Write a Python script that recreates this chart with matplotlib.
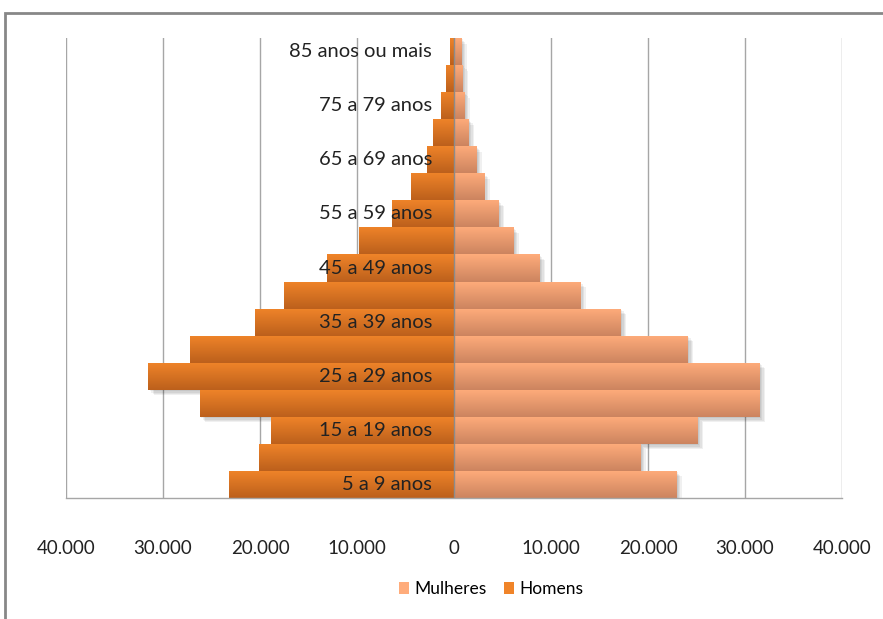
import numpy as np
import matplotlib
matplotlib.use("Agg")
import matplotlib.pyplot as plt
from matplotlib.patches import Rectangle, Patch
from matplotlib.colors import LinearSegmentedColormap
from matplotlib import patheffects as pe
from matplotlib.transforms import offset_copy

plt.rcParams['font.family'] = ['Lato', 'DejaVu Sans']

# Age groups, youngest at the bottom
grupos = ["5 a 9 anos", "10 a 14 anos", "15 a 19 anos", "20 a 24 anos",
          "25 a 29 anos", "30 a 34 anos", "35 a 39 anos", "40 a 44 anos",
          "45 a 49 anos", "50 a 54 anos", "55 a 59 anos", "60 a 64 anos",
          "65 a 69 anos", "70 a 74 anos", "75 a 79 anos", "80 a 84 anos",
          "85 anos ou mais"]
homens = [23200, 20100, 18900, 26200, 31500, 27200, 20500, 17500,
          13100, 9800, 6400, 4400, 2800, 2200, 1300, 800, 450]
mulheres = [22900, 19200, 25100, 31500, 31500, 24100, 17200, 13000,
            8800, 6100, 4600, 3100, 2300, 1500, 1050, 870, 740]
x_ticks = [-40000, -30000, -20000, -10000, 0, 10000, 20000, 30000, 40000]

cor_h_top, cor_h_bot = "#F08429", "#BC601C"
cor_m_top, cor_m_bot = "#FFAC7B", "#CC845F"

W, H = 883, 619
fig = plt.figure(figsize=(W / 100, H / 100), dpi=100)
ax = fig.add_axes([66 / W, 1 - 498 / H, (842 - 66) / W, (498 - 38) / H])

y = np.arange(len(grupos))
# soft drop shadow built from a few faint offset copies
shadow = [pe.SimplePatchShadow(offset=(d, -d), shadow_rgbFace="black", alpha=0.06)
          for d in (4, 3, 2, 1)] + [pe.Normal()]
bars_h = ax.barh(y, [-v for v in homens], height=1.0, color=cor_h_top,
                 zorder=2, path_effects=shadow)
bars_m = ax.barh(y, mulheres, height=1.0, color=cor_m_top,
                 zorder=2, path_effects=shadow)

# vertical gradient on each bar
grad = np.linspace(0, 1, 64).reshape(-1, 1)
for bars, c_top, c_bot in ((bars_h, cor_h_top, cor_h_bot),
                           (bars_m, cor_m_top, cor_m_bot)):
    cmap = LinearSegmentedColormap.from_list("g", [c_bot, c_top])
    for b in bars:
        x0, y0 = b.get_x(), b.get_y()
        x1, y1 = x0 + b.get_width(), y0 + b.get_height()
        im = ax.imshow(grad, cmap=cmap, aspect="auto", origin="lower",
                       extent=(min(x0, x1), max(x0, x1), y0, y1), zorder=2.5,
                       interpolation="bilinear")
        im.set_clip_path(b)

ax.set_xlim(-40000, 40000)
ax.set_ylim(-0.5, len(grupos) - 0.5)

ax.set_xticks(x_ticks)
ax.set_xticklabels([f"{abs(v):,}".replace(",", ".") for v in x_ticks])
ax.tick_params(axis="x", length=0, pad=30, labelsize=13.5, colors="#222222")
ax.set_yticks([])
ax.grid(axis="x", color="#A6A6A6", linewidth=1.0, zorder=0)
ax.set_axisbelow(True)
for s in ("top", "right", "left"):
    ax.spines[s].set_visible(False)
ax.spines["bottom"].set_color("#A6A6A6")
ax.spines["bottom"].set_linewidth(1.0)
ax.axvline(0, color="#8C8C8C", linewidth=1.0, zorder=4)

# category labels beside the central axis, every other group
lab_tr = offset_copy(ax.transData, fig=fig, x=-22, y=0, units="dots")
for i in range(0, len(grupos), 2):
    ax.text(0, i, grupos[i], transform=lab_tr, ha="right", va="center",
            fontsize=14.5, color="#222222", zorder=5)

handles = [Patch(facecolor=cor_m_top, edgecolor="none", label="Mulheres"),
           Patch(facecolor=cor_h_top, edgecolor="none", label="Homens")]
fig.legend(handles=handles, loc="center", bbox_to_anchor=(491 / W, 1 - 589 / H),
           ncol=2, frameon=False, fontsize=12.5, handlelength=0.6,
           handleheight=0.7, handletextpad=0.3, columnspacing=1.0)

# outer chart frame
fig.patches.append(Rectangle((5 / W, -0.1), 1.2, 1 - 13 / H + 0.1,
                             transform=fig.transFigure, fill=False,
                             edgecolor="#878787", linewidth=2))

fig.savefig("out.png", dpi=100)
